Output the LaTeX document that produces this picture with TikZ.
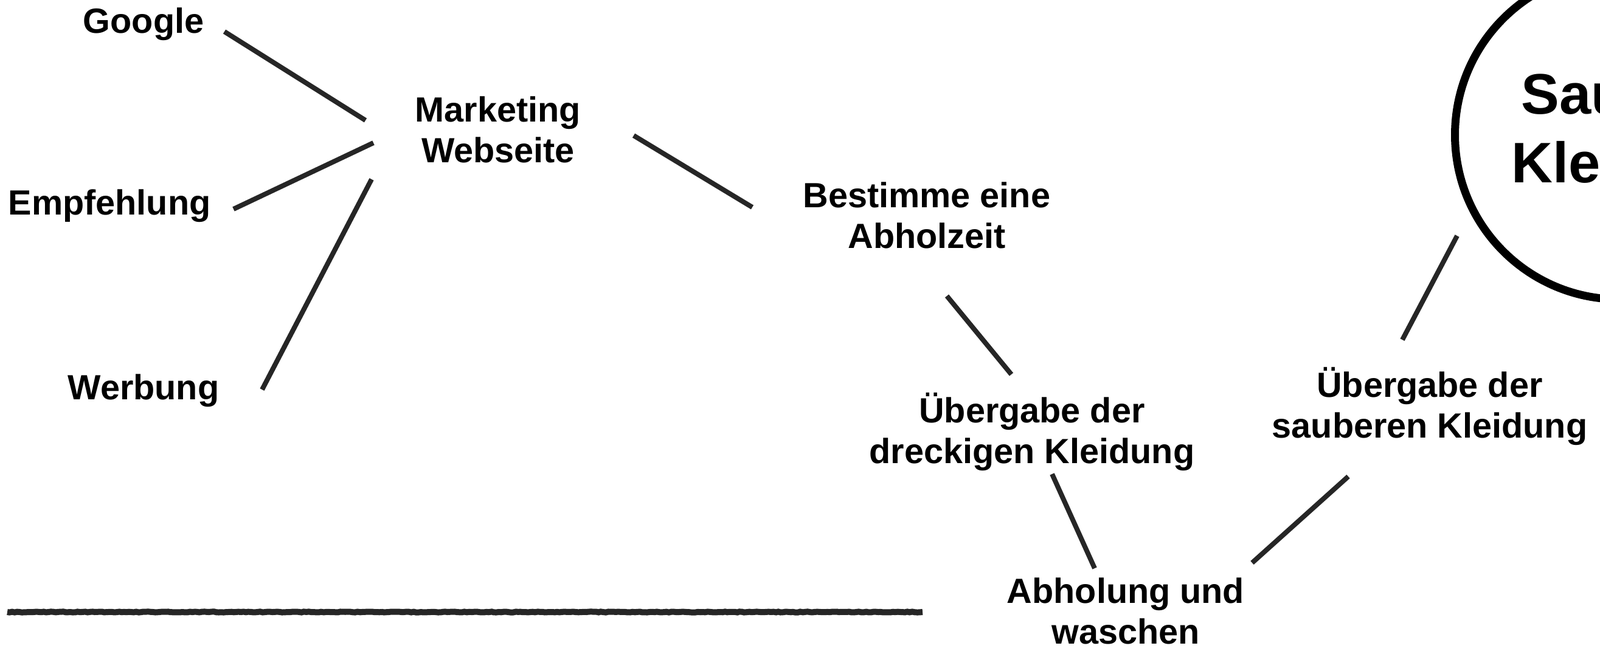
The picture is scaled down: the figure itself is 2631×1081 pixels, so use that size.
\documentclass[tikz,border=0pt]{standalone}
\usepackage{fontspec}
\setmainfont{Liberation Sans}
\usetikzlibrary{calc,decorations.pathmorphing}
\begin{document}
\begin{tikzpicture}[x=1pt,y=-1pt,
  lbl/.style={font=\fontsize{57.6}{67}\selectfont\bfseries, align=center, inner sep=0pt},
  bigtext/.style={font=\fontsize{94}{113}\selectfont\bfseries, align=center, inner sep=0pt},
  bigcircle/.style={circle, draw=black, line width=13pt, minimum size=541pt, inner sep=0pt},
  conn/.style={line width=8pt, draw=black!85},
  rule/.style={line width=10pt, draw=black!85,
    decorate, decoration={random steps, segment length=4pt, amplitude=0.6pt}}]
\fill[white] (0,0) rectangle (2631,1081);
\useasboundingbox (0,0) rectangle (2631,1081);
\clip (0,0) rectangle (2631,1081);

\node[lbl] (google) at (236,40) {Google};
\node[lbl] (mkt) at (819,213) {Marketing\\Webseite};
\node[lbl] (emp) at (180,339) {Empfehlung};
\node[lbl] (werb) at (236,643) {Werbung};
\node[lbl] (best) at (1524,354) {Bestimme eine\\Abholzeit};
\node[lbl] (ued) at (1697,710) {Übergabe der\\dreckigen Kleidung};
\node[lbl] (abh) at (1851,1005) {Abholung und\\waschen};
\node[lbl] (ues) at (2351,668) {Übergabe der\\sauberen Kleidung};
\node[bigcircle] (clean) at (2663,222) {};
\node[bigtext] (cleantxt) at (2687,220) {Saubere\\Kleidung};

\draw[conn] ($(google)+(133,12)$) -- ($(mkt)+(-218,-15)$);
\draw[conn] ($(emp)+(204,5)$) -- ($(mkt)+(-205,22)$);
\draw[conn] ($(werb)+(195,-2)$) -- ($(mkt)+(-208,82)$);
\draw[conn] ($(mkt)+(223,10)$) -- ($(best)+(-287,-13)$);
\draw[conn] ($(best)+(33,133)$) -- ($(ued)+(-34,-94)$);
\draw[conn] ($(ued)+(33,70)$) -- ($(abh)+(-51,-70)$);
\draw[conn] ($(abh)+(208,-79)$) -- ($(ues)+(-134,116)$);
\draw[conn] ($(ues)+(-45,-109)$) -- ($(clean)+(-267,166)$);

\draw[rule] (12,1007) -- (1517,1007);
\end{tikzpicture}
\end{document}
